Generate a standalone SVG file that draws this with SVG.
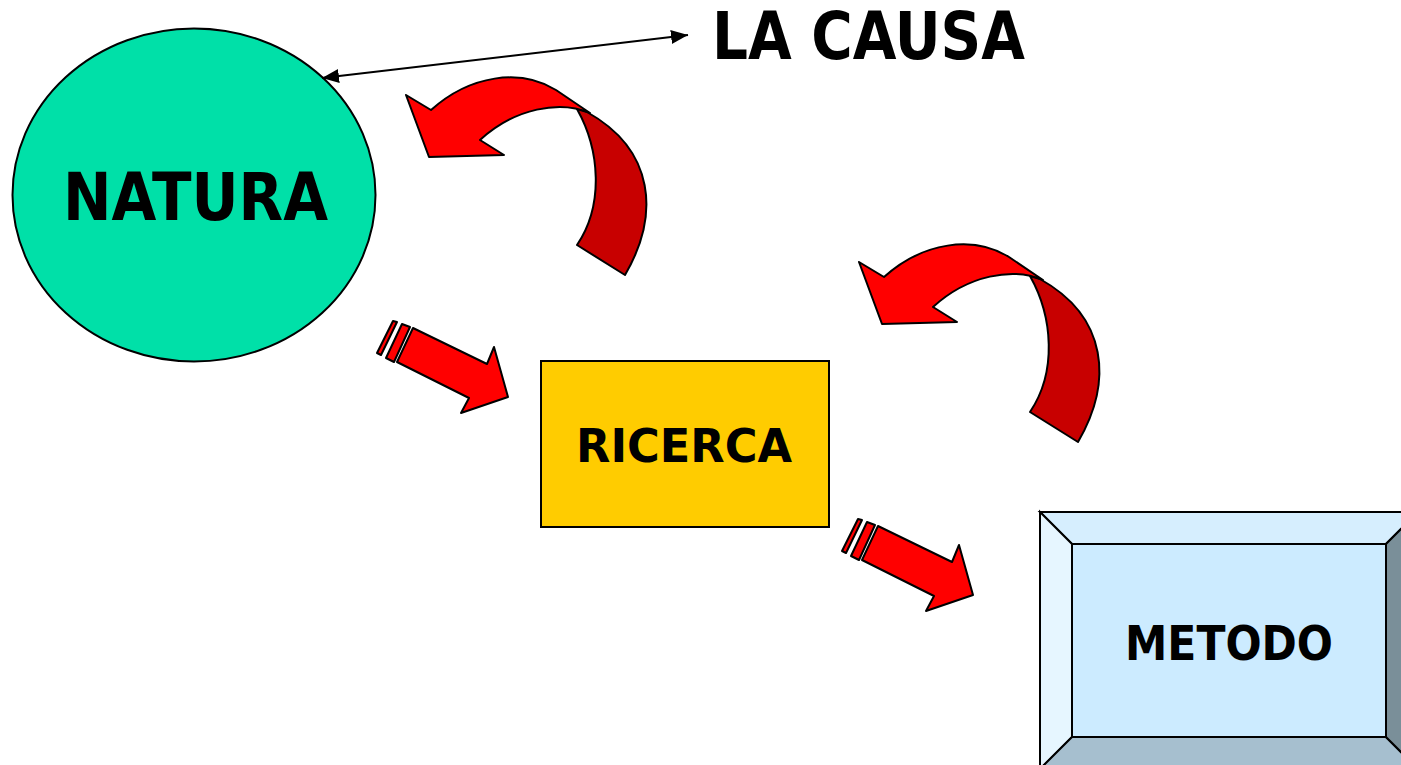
<svg xmlns="http://www.w3.org/2000/svg" xmlns:xlink="http://www.w3.org/1999/xlink" width="1401" height="765" viewBox="0 0 1401 765">
<style>
.lbl{font-family:"DejaVu Sans","Liberation Sans",sans-serif;font-weight:bold;fill:#000}
.ol{stroke:#000;stroke-width:2;stroke-linejoin:round}
.red{fill:#FF0000}
.dark{fill:#C80000}
.bx{stroke:#000;stroke-width:2}
</style>
<defs>
<marker id="ah" viewBox="0 0 17 14" refX="17" refY="7" markerWidth="17" markerHeight="14" markerUnits="userSpaceOnUse" orient="auto-start-reverse">
<path d="M0,0 L17,7 L0,14 Z" fill="#000"/>
</marker>
<g id="curved">
<path class="ol dark" d="M577,109 C600,150 604,205 577,245 L625,275 C660,215 655,150 587,112 Z"/>
<path class="ol red" d="M406,95 L431,110 C470,75 520,68 556,90 L590,113 C560,100 515,108 480,140 L504,155 L429,157 Z"/>
</g>
<g id="straight">
<path class="ol red" d="M413,328 L487,364 L494,347 L508,397 L461,413 L469,398 L397,362 Z"/>
<path class="ol red" d="M402,324 L410,327 L394,362 L386,358 Z"/>
<path class="ol red" d="M393,321 L397,322 L381,355 L377,353 Z"/>
</g>
</defs>
<rect width="1401" height="765" fill="#fff"/>
<g id="natura">
<ellipse class="bx" cx="194" cy="195" rx="181.5" ry="166.5" fill="#00E0A8"/>
<text class="lbl" x="63" y="220" font-size="65" textLength="265" lengthAdjust="spacingAndGlyphs">NATURA</text>
</g>
<g id="lacausa">
<text class="lbl" x="712" y="59" font-size="65" textLength="313" lengthAdjust="spacingAndGlyphs">LA CAUSA</text>
</g>
<g id="ricerca">
<rect class="bx" x="541" y="361" width="288" height="166" fill="#FFCC00"/>
<text class="lbl" x="576" y="462" font-size="47" textLength="216" lengthAdjust="spacingAndGlyphs">RICERCA</text>
</g>
<g id="metodo">
<polygon class="bx" points="1040,512 1418,512 1386,544 1072,544" fill="#D6EEFE"/>
<polygon class="bx" points="1040,512 1072,544 1072,737 1040,769" fill="#E6F6FF"/>
<polygon class="bx" points="1040,769 1072,737 1386,737 1418,769" fill="#A6BFCF"/>
<polygon class="bx" points="1418,512 1418,769 1386,737 1386,544" fill="#7A8F99"/>
<rect class="bx" x="1072" y="544" width="314" height="193" fill="#CCEBFF"/>
<text class="lbl" x="1125" y="660" font-size="48" textLength="208" lengthAdjust="spacingAndGlyphs">METODO</text>
</g>
<g id="connectors">
<line x1="322" y1="78" x2="688" y2="35" stroke="#000" stroke-width="2" marker-start="url(#ah)" marker-end="url(#ah)"/>
<use xlink:href="#curved"/>
<use xlink:href="#curved" transform="translate(453,167)"/>
<use xlink:href="#straight"/>
<use xlink:href="#straight" transform="translate(465,198)"/>
</g>
</svg>
